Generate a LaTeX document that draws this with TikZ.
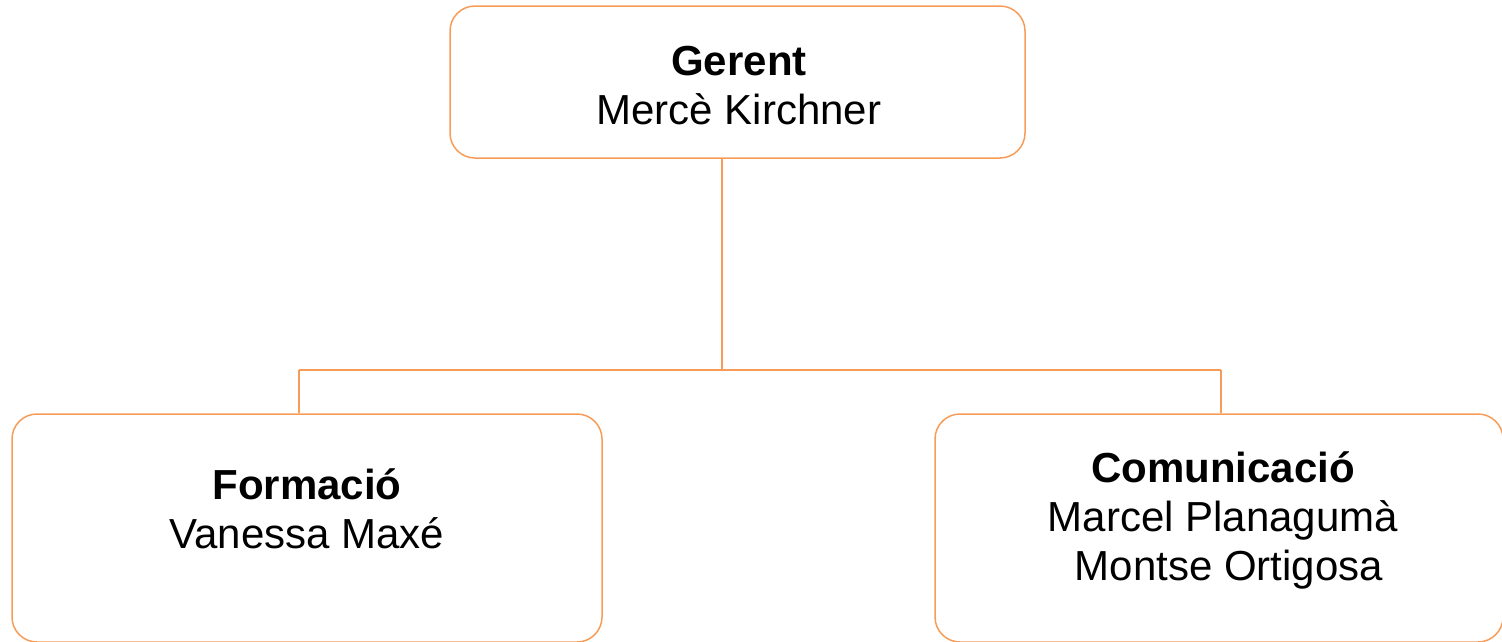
\documentclass[tikz,border=0pt]{standalone}
\usepackage{fontspec}
\setmainfont{Liberation Sans}
\usetikzlibrary{positioning}
\definecolor{orgline}{RGB}{247,156,88}
\tikzset{
  unitbox/.style={draw=orgline, line width=1.5pt, rounded corners=25pt, inner sep=0pt},
  unittext/.style={align=center, inner sep=0pt, font=\fontsize{42}{49}\selectfont, anchor=base},
  link/.style={draw=orgline, line width=2pt},
}
\begin{document}
\begin{tikzpicture}[x=1pt,y=-1pt]
    \useasboundingbox (0,0) rectangle (1502,641);
    \clip (0,0) rectangle (1502,641);
    % Draw the boxes
    \node[unitbox, minimum width=575pt, minimum height=152pt] (gerent) at (737.5,82) {};
    \node[unitbox, minimum width=590pt, minimum height=228pt] (formacio) at (307,528) {};
    \node[unitbox, minimum width=568pt, minimum height=228pt] (comunicacio) at (1219,528) {};
    % Draw the names (anchored at the last baseline)
    \node[unittext] (gerenttxt) at (739,124) {\textbf{Gerent}\\Mercè Kirchner};
    \node[unittext] (formaciotxt) at (307,548) {\textbf{Formació}\\Vanessa Maxé};
    \node[unittext] (comunicaciotxt) at (1223,580) {\textbf{Comunicació}\\Marcel Planagumà\\\mbox{}\ Montse Ortigosa};
    % Draw the links
    \coordinate (hub) at (722,370);
    \coordinate (lefttap) at (299,370);
    \coordinate (righttap) at (1221,370);
    \draw[link] (gerent.south -| hub) -- (hub);
    \draw[link] (lefttap) -- (righttap);
    \draw[link] (lefttap) -- (lefttap |- formacio.north);
    \draw[link] (righttap) -- (righttap |- comunicacio.north);
\end{tikzpicture}
\end{document}
